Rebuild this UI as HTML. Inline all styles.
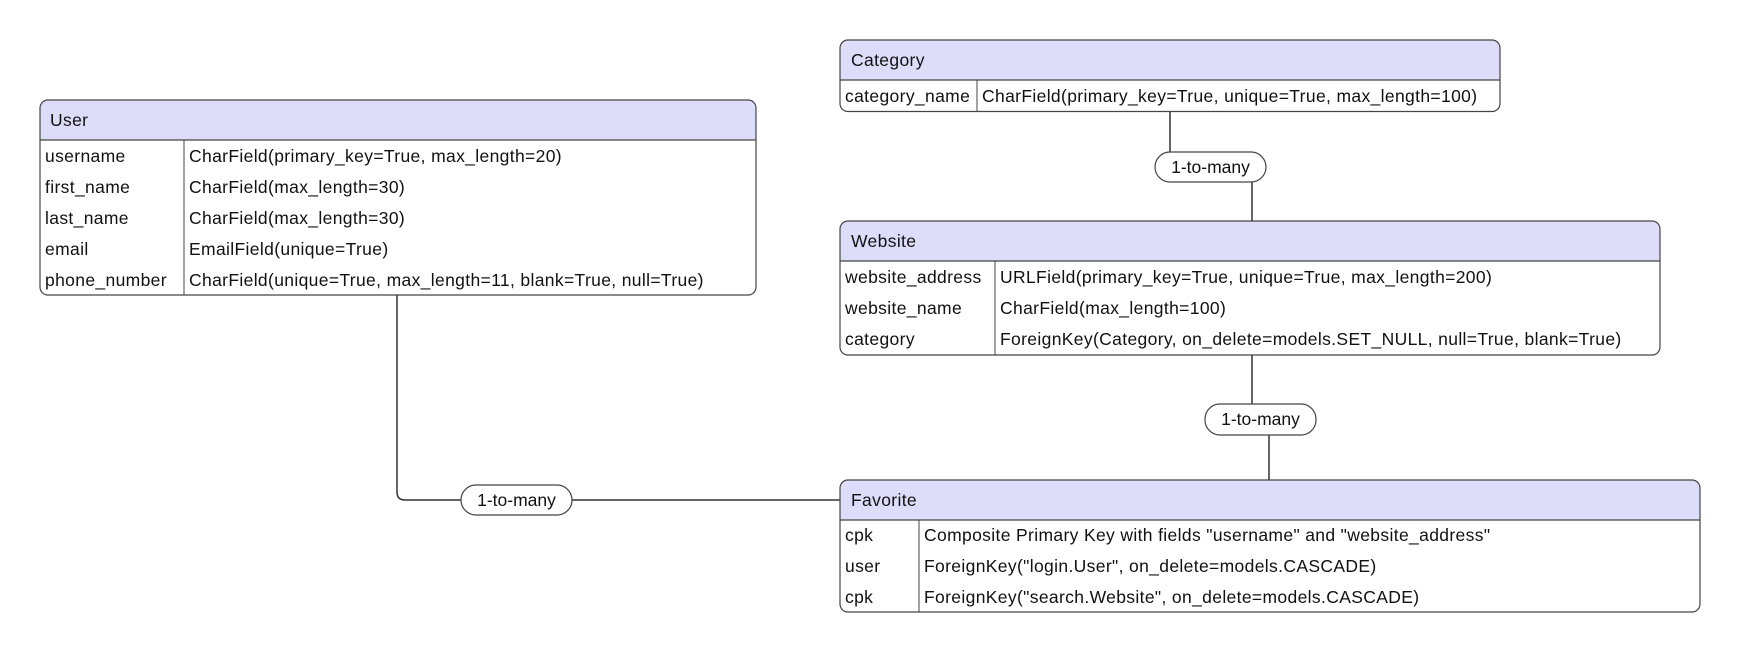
<!DOCTYPE html>
<html><head><meta charset="utf-8"><style>
html,body{margin:0;padding:0;background:#fff;}
svg{display:block;font-family:"Liberation Sans",sans-serif;font-size:17.5px;fill:#111;}
</style></head><body>
<svg width="1740" height="652" viewBox="0 0 1740 652" xmlns="http://www.w3.org/2000/svg">
<g fill="none" stroke="#333" stroke-width="1.5">
  <path d="M1170 111 V152"/><path d="M1252 182 V221"/>
  <path d="M1252 355 V404"/><path d="M1269 435 V480"/>
  <path d="M397 295 V492 Q397 500 405 500 H840"/>
</g>
<g style="letter-spacing:0.35px">
<!-- User -->
<g>
  <path d="M48 100 H748 Q756 100 756 108 V140 H40 V108 Q40 100 48 100Z" fill="#ddddfa"/>
  <rect x="40" y="100" width="716" height="195" rx="8" fill="none" stroke="#444" stroke-width="1.2"/>
  <line x1="40" y1="140" x2="756" y2="140" stroke="#444" stroke-width="1.2"/>
  <line x1="184" y1="140" x2="184" y2="295" stroke="#444" stroke-width="1"/>
  <text x="50" y="126">User</text>
  <text x="45" y="162">username</text><text x="189" y="162">CharField(primary_key=True, max_length=20)</text>
  <text x="45" y="193">first_name</text><text x="189" y="193">CharField(max_length=30)</text>
  <text x="45" y="224">last_name</text><text x="189" y="224">CharField(max_length=30)</text>
  <text x="45" y="255">email</text><text x="189" y="255">EmailField(unique=True)</text>
  <text x="45" y="286">phone_number</text><text x="189" y="286">CharField(unique=True, max_length=11, blank=True, null=True)</text>
</g>
<!-- Category -->
<g>
  <path d="M848 40 H1492 Q1500 40 1500 48 V80 H840 V48 Q840 40 848 40Z" fill="#ddddfa"/>
  <rect x="840" y="40" width="660" height="71.5" rx="8" fill="none" stroke="#444" stroke-width="1.2"/>
  <line x1="840" y1="80" x2="1500" y2="80" stroke="#444" stroke-width="1.2"/>
  <line x1="977" y1="80" x2="977" y2="111.5" stroke="#444" stroke-width="1"/>
  <text x="851" y="66">Category</text>
  <text x="845" y="102">category_name</text><text x="982" y="102">CharField(primary_key=True, unique=True, max_length=100)</text>
</g>
<!-- Website -->
<g>
  <path d="M848 221 H1652 Q1660 221 1660 229 V261 H840 V229 Q840 221 848 221Z" fill="#ddddfa"/>
  <rect x="840" y="221" width="820" height="134" rx="8" fill="none" stroke="#444" stroke-width="1.2"/>
  <line x1="840" y1="261" x2="1660" y2="261" stroke="#444" stroke-width="1.2"/>
  <line x1="995" y1="261" x2="995" y2="355" stroke="#444" stroke-width="1"/>
  <text x="851" y="247">Website</text>
  <text x="845" y="283">website_address</text><text x="1000" y="283">URLField(primary_key=True, unique=True, max_length=200)</text>
  <text x="845" y="314">website_name</text><text x="1000" y="314">CharField(max_length=100)</text>
  <text x="845" y="345">category</text><text x="1000" y="345">ForeignKey(Category, on_delete=models.SET_NULL, null=True, blank=True)</text>
</g>
<!-- Favorite -->
<g>
  <path d="M848 480 H1692 Q1700 480 1700 488 V520 H840 V488 Q840 480 848 480Z" fill="#ddddfa"/>
  <rect x="840" y="480" width="860" height="132" rx="8" fill="none" stroke="#444" stroke-width="1.2"/>
  <line x1="840" y1="520" x2="1700" y2="520" stroke="#444" stroke-width="1.2"/>
  <line x1="919" y1="520" x2="919" y2="612" stroke="#444" stroke-width="1"/>
  <text x="851" y="506">Favorite</text>
  <text x="845" y="541">cpk</text><text x="924" y="541">Composite Primary Key with fields "username" and "website_address"</text>
  <text x="845" y="572">user</text><text x="924" y="572">ForeignKey("login.User", on_delete=models.CASCADE)</text>
  <text x="845" y="603">cpk</text><text x="924" y="603">ForeignKey("search.Website", on_delete=models.CASCADE)</text>
</g>
</g>
<!-- labels -->
<g>
  <rect x="1155" y="152" width="111" height="30" rx="15" fill="#fff" stroke="#444" stroke-width="1.2"/>
  <text x="1210.5" y="173" text-anchor="middle">1-to-many</text>
  <rect x="1205" y="404" width="111" height="31" rx="15" fill="#fff" stroke="#444" stroke-width="1.2"/>
  <text x="1260.5" y="425" text-anchor="middle">1-to-many</text>
  <rect x="461" y="485" width="111" height="30" rx="15" fill="#fff" stroke="#444" stroke-width="1.2"/>
  <text x="516.5" y="506" text-anchor="middle">1-to-many</text>
</g>
</svg>
</body></html>
